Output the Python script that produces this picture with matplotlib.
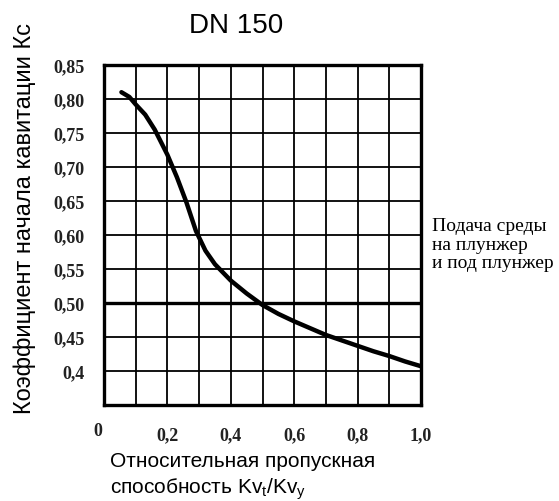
import matplotlib
matplotlib.use("Agg")
import matplotlib.pyplot as plt
import matplotlib.transforms as mtransforms
import numpy as np

# Data
kv_ratio = [0.055, 0.08, 0.10, 0.13, 0.16, 0.20, 0.23, 0.26, 0.29, 0.32, 0.35,
            0.40, 0.45, 0.50, 0.55, 0.60, 0.65, 0.70, 0.75, 0.80, 0.85, 0.90,
            0.95, 1.00]
kc_values = [0.810, 0.803, 0.792, 0.777, 0.755, 0.718, 0.685, 0.648, 0.606,
             0.577, 0.557, 0.533, 0.514, 0.497, 0.484, 0.473, 0.463, 0.453,
             0.445, 0.437, 0.429, 0.422, 0.414, 0.407]
x_ticks = [0.0, 0.2, 0.4, 0.6, 0.8, 1.0]
x_tick_labels = ["0", "0,2", "0,4", "0,6", "0,8", "1,0"]
y_ticks = [0.40, 0.45, 0.50, 0.55, 0.60, 0.65, 0.70, 0.75, 0.80, 0.85]
y_tick_labels = ["0,4", "0,45", "0,50", "0,55", "0,60", "0,65", "0,70", "0,75", "0,80", "0,85"]
ref_level = 0.50

W, H = 559, 502
fig = plt.figure(figsize=(W/100, H/100), dpi=100)
ax = fig.add_axes([104/W, 1-406/H, (421-104)/W, (406-66)/H])

ax.set_xlim(0, 1.0)
ax.set_ylim(0.35, 0.85)

ax.set_xticks(x_ticks)
ax.set_xticklabels(x_tick_labels)
ax.set_xticks(np.arange(0.1, 1.0, 0.2), minor=True)
ax.set_yticks(y_ticks)
ax.set_yticklabels(y_tick_labels)
ax.set_yticks([0.35], minor=True)
ax.grid(True, which="both", color="black", linewidth=1.3)
ax.tick_params(which="both", length=0)
ax.tick_params(axis="x", pad=15)
ax.tick_params(axis="y", pad=14)
for lab in ax.get_xticklabels() + ax.get_yticklabels():
    lab.set_family("Liberation Serif")
    lab.set_fontweight("bold")
    lab.set_fontsize(13)
    lab.set_color("#222222")

# the "0" label sits slightly left of and above the axis corner
zero_lab = ax.get_xticklabels()[0]
zero_lab.set_transform(zero_lab.get_transform() +
                       mtransforms.ScaledTranslation(-6/100, 4/100, fig.dpi_scale_trans))

for s in ax.spines.values():
    s.set_linewidth(2.4)
    s.set_color("black")

ax.axhline(ref_level, color="black", linewidth=2.4)
ax.plot(kv_ratio, kc_values, color="black", linewidth=3.2, solid_capstyle="round")

fig.text(236/W, 1-33/H, "DN 150", ha="center", va="baseline",
         family="Liberation Sans", fontsize=20)
fig.text(25/W, 1-219/H, "Коэффициент начала кавитации Кс", rotation=90,
         ha="center", va="center", family="Liberation Sans", fontsize=17)
fig.text(110/W, 1-462/H, "Относительная пропускная", ha="left", va="center",
         family="Liberation Sans", fontsize=15)
fig.text(110/W, 1-489/H, r"способность $\mathregular{Kv_t/Kv_y}$", ha="left", va="center",
         family="Liberation Sans", fontsize=15)
fig.text(432/W, 1-245/H, "Подача среды\nна плунжер\nи под плунжер", ha="left", va="center",
         family="Liberation Serif", fontsize=14, linespacing=1.15)

fig.savefig("out.png", dpi=100)
